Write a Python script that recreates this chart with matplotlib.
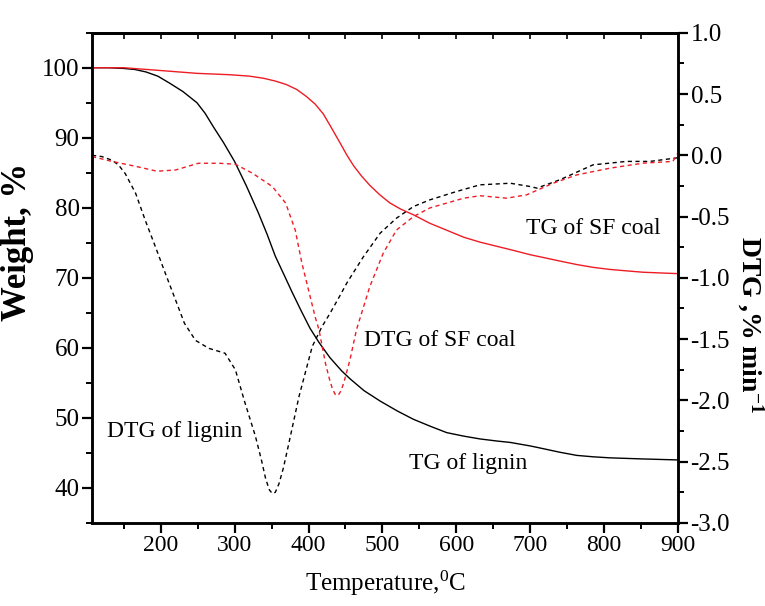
import numpy as np
import matplotlib
matplotlib.use("Agg")
import matplotlib.pyplot as plt
from matplotlib.ticker import MultipleLocator

plt.rcParams['font.family'] = ['Liberation Serif', 'DejaVu Serif']
plt.rcParams['mathtext.fontset'] = 'custom'
plt.rcParams['mathtext.rm'] = 'Liberation Serif'
plt.rcParams['mathtext.it'] = 'Liberation Serif:italic'
plt.rcParams['mathtext.bf'] = 'Liberation Serif:bold'

# TG of lignin (weight %)
T_tg_lig = [107, 130, 150, 165, 180, 196, 212, 230, 249, 260, 271, 285, 300, 316, 332, 344,
            355, 367, 378, 390, 402, 414, 429, 445, 456, 475, 497, 520, 542, 565, 587, 610,
            632, 655, 673, 700, 718, 740, 763, 785, 808, 850, 900]
W_tg_lig = [100, 100, 99.9, 99.75, 99.4, 98.8, 97.8, 96.6, 95.0, 93.5, 91.6, 89.3, 86.6, 83.1, 79.3, 76.2,
            73.1, 70.4, 67.9, 65.3, 62.8, 60.8, 58.6, 56.7, 55.6, 53.9, 52.4, 51.0, 49.8, 48.8, 47.9, 47.4,
            47.0, 46.7, 46.5, 46.0, 45.6, 45.1, 44.65, 44.45, 44.3, 44.15, 44.0]

# TG of SF coal (weight %)
T_tg_coal = [107, 150, 200, 249, 294, 320, 339, 355, 370, 384, 397, 409, 420, 430, 443, 452,
             461, 472, 483, 496, 510, 525, 542, 564, 587, 610, 632, 655, 678, 700, 718, 740,
             763, 785, 808, 830, 853, 900]
W_tg_coal = [100, 100, 99.6, 99.2, 99.0, 98.8, 98.5, 98.1, 97.6, 96.9, 95.9, 94.8, 93.4, 91.6, 89.2, 87.5,
             86.0, 84.5, 83.2, 81.9, 80.7, 79.8, 79.0, 77.8, 76.8, 75.8, 75.1, 74.5, 73.9, 73.3, 72.9, 72.4,
             71.9, 71.5, 71.2, 71.0, 70.8, 70.6]

# DTG of lignin (%/min)
T_dtg_lig = [107, 120, 134, 143, 152, 166, 179, 193, 206, 220, 232, 247, 265, 287, 301, 314,
             328, 336, 342, 347, 351, 355, 360, 366, 373, 387, 405, 418, 429, 443, 452, 474,
             497, 519, 542, 564, 600, 632, 673, 700, 709, 740, 785, 830, 862, 900]
D_dtg_lig = [0.0, -0.01, -0.04, -0.08, -0.15, -0.31, -0.53, -0.75, -0.96, -1.18, -1.37, -1.51, -1.575, -1.615, -1.75, -2.02,
             -2.29, -2.48, -2.64, -2.73, -2.76, -2.75, -2.68, -2.55, -2.36, -1.97, -1.56, -1.40, -1.29, -1.14, -1.04, -0.83,
             -0.635, -0.513, -0.418, -0.364, -0.296, -0.241, -0.228, -0.255, -0.268, -0.20, -0.078, -0.05, -0.05, -0.02]

# DTG of SF coal (%/min)
T_dtg_coal = [107, 134, 166, 195, 220, 251, 279, 301, 324, 351, 369, 382, 391, 400, 409,
              414, 423, 428, 432, 436, 440, 444, 448, 456, 465, 483, 501, 519, 542, 564, 587,
              610, 632, 668, 695, 731, 763, 808, 853, 893, 900]
D_dtg_coal = [-0.01, -0.05, -0.09, -0.13, -0.12, -0.065, -0.065, -0.073, -0.146, -0.255, -0.39, -0.61, -0.88, -1.10, -1.32,
              -1.42, -1.70, -1.82, -1.90, -1.95, -1.96, -1.92, -1.85, -1.67, -1.42, -1.07, -0.80, -0.61, -0.50, -0.43, -0.39,
              -0.35, -0.33, -0.35, -0.323, -0.228, -0.16, -0.105, -0.064, -0.05, 0.02]

red = '#ee1c25'

fig = plt.figure(figsize=(7.65, 6.06), dpi=100)
ax = fig.add_axes([0.1203, 0.137, 0.766, 0.809])
ax2 = ax.twinx()

# TG curves
ax.plot(T_tg_lig, W_tg_lig, color='black', lw=1.0)
ax.plot(T_tg_coal, W_tg_coal, color=red, lw=1.0)

# DTG curves
ax2.plot(T_dtg_lig, D_dtg_lig, color='black', lw=1.0, dashes=(3, 2.5))
ax2.plot(T_dtg_coal, D_dtg_coal, color=red, lw=1.0, dashes=(3, 2.5))

ax.set_xlim(107, 900)
ax.set_ylim(35, 105)
ax2.set_ylim(-3.0, 1.0)

ax.xaxis.set_major_locator(MultipleLocator(100))
ax.xaxis.set_minor_locator(MultipleLocator(50))
ax.yaxis.set_major_locator(MultipleLocator(10))
ax.yaxis.set_minor_locator(MultipleLocator(5))
ax2.yaxis.set_major_locator(MultipleLocator(0.5))
ax2.yaxis.set_minor_locator(MultipleLocator(0.25))
ax2.yaxis.set_major_formatter(plt.FuncFormatter(lambda v, p: '%.1f' % v))

for a in (ax, ax2):
    for s in a.spines.values():
        s.set_linewidth(1.8)
    a.tick_params(which='major', direction='out', length=7, width=1.6, labelsize=18, pad=2)
    a.tick_params(which='minor', direction='out', length=4, width=1.4)

ax.tick_params(axis='x', labelsize=17)

# inward ticks along the top edge
top = ax.secondary_xaxis('top')
top.xaxis.set_major_locator(MultipleLocator(50))
top.tick_params(direction='in', length=4, width=1.2, labeltop=False)
top.spines['top'].set_linewidth(1.8)

ax.set_xlabel('Temperature,$^{0}$C', fontsize=18)
ax.xaxis.set_label_coords(0.5, -0.094)
ax.set_ylabel('Weight, %', fontsize=25, fontweight='bold')
ax.yaxis.set_label_coords(-0.099, 0.573)
ax2.set_ylabel('DTG ,% min$^{\\mathbf{-1}}$', fontsize=20, fontweight='bold', rotation=270)
ax2.yaxis.set_label_coords(1.148, 0.405)

ax.text(785, 77.0, 'TG of SF coal', fontsize=17, ha='center', va='center')
ax.text(578, 61.0, 'DTG of SF coal', fontsize=17, ha='center', va='center')
ax.text(616, 43.5, 'TG of lignin', fontsize=17, ha='center', va='center')
ax.text(219, 48.0, 'DTG of lignin', fontsize=17, ha='center', va='center')

fig.savefig('out.png', dpi=100)
